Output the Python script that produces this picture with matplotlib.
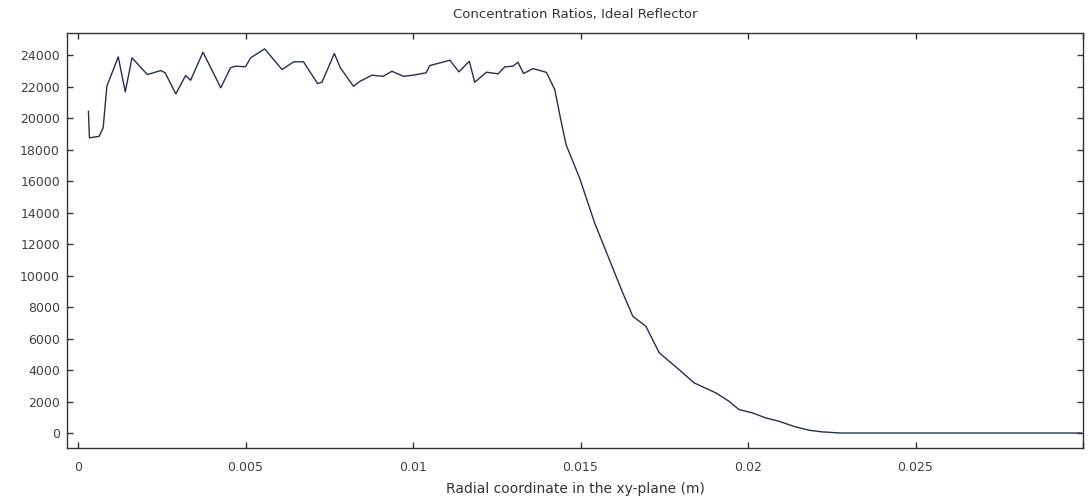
import matplotlib
matplotlib.use('Agg')
import matplotlib.pyplot as plt

# radial coordinate (m) and concentration ratio
r = [0.00031, 0.00034, 0.00063, 0.00075, 0.00086, 0.00120, 0.00141, 0.00161,
     0.00207, 0.00247, 0.00260, 0.00292, 0.00321, 0.00336, 0.00373, 0.00426,
     0.00455, 0.00470, 0.00500, 0.00515, 0.00557, 0.00609, 0.00644, 0.00673,
     0.00715, 0.00728, 0.00765, 0.00783, 0.00822, 0.00842, 0.00877, 0.00911,
     0.00937, 0.00971, 0.01000, 0.01039, 0.01050, 0.01110, 0.01137, 0.01168,
     0.01184, 0.01219, 0.01254, 0.01274, 0.01298, 0.01313, 0.01330, 0.01358,
     0.01398, 0.01423, 0.01440, 0.01457, 0.01497, 0.01532, 0.01542, 0.01586,
     0.01626, 0.01656, 0.01695, 0.01735, 0.01794, 0.01839, 0.01904, 0.01943,
     0.01973, 0.02013, 0.02052, 0.02092, 0.02140, 0.02182, 0.02221, 0.02276,
     0.02995]
ratio = [20430, 18740, 18840, 19380, 22020, 23885, 21660, 23820,
         22760, 23015, 22870, 21535, 22700, 22400, 24180, 21920,
         23190, 23290, 23260, 23820, 24390, 23080, 23570, 23570,
         22190, 22270, 24095, 23190, 22020, 22335, 22720, 22650,
         22970, 22650, 22720, 22870, 23330, 23670, 22930, 23610,
         22270, 22910, 22805, 23250, 23290, 23540, 22825, 23140,
         22900, 21810, 20000, 18300, 16200, 13980, 13345, 11015,
         8900, 7415, 6780, 5090, 4030, 3185, 2550, 2020,
         1490, 1280, 965, 750, 400, 180, 75, 0,
         0]

x_ticks = [0, 0.005, 0.01, 0.015, 0.02, 0.025, 0.03]
x_labels = ['0', '0.005', '0.01', '0.015', '0.02', '0.025', '']
y_ticks = list(range(0, 24001, 2000))

plt.rcParams['font.family'] = 'DejaVu Sans'

fig = plt.figure(figsize=(10.91, 4.99), dpi=100)
ax = fig.add_axes([0.0614, 0.1022, 0.9313, 0.8317])

ax.plot(r, ratio, color='#25304f', linewidth=1.0)

ax.set_xlim(-0.00033, 0.03)
ax.set_ylim(-950, 25400)
ax.set_xticks(x_ticks)
ax.set_xticklabels(x_labels)
ax.set_yticks(y_ticks)

ax.tick_params(direction='in', length=4, width=1, top=True, right=True,
               labelright=False, labeltop=False, labelsize=9,
               labelcolor='#404040', color='#333333')
ax.tick_params(axis='x', pad=9)
ax.tick_params(axis='y', pad=5)
for s in ax.spines.values():
    s.set_color('#333333')
    s.set_linewidth(1.0)

ax.set_title('Concentration Ratios, Ideal Reflector', fontsize=9.5,
             color='#333333', pad=11)
ax.set_xlabel('Radial coordinate in the xy-plane (m)', fontsize=10,
              color='#333333', labelpad=6)

fig.savefig('out.png', dpi=100)
